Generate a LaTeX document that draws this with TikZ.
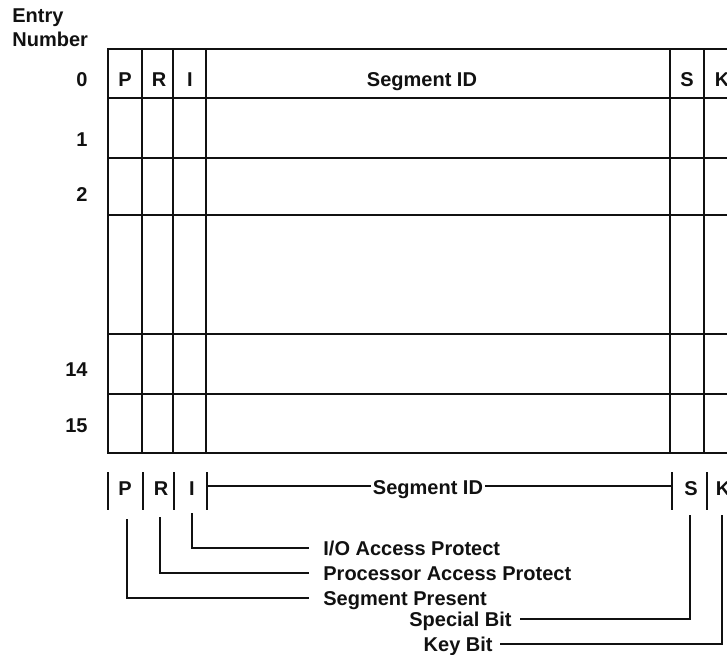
\documentclass[tikz,border=0pt]{standalone}
\usepackage{fontspec}
\setmainfont{Liberation Sans}
\usetikzlibrary{positioning,calc}
\definecolor{Ink}{HTML}{111111}
\tikzset{
  table line/.style={draw=Ink,line width=1.1pt},
  bit label/.style={font=\bfseries,text=Ink,inner sep=0pt,
    text height=7.2pt,text depth=0pt},
  field text/.style={font=\bfseries,text=Ink,inner sep=0pt,
    text height=7.2pt,text depth=0pt},
  leader line/.style={draw=Ink,line width=1.1pt}
}

\begin{document}
\begin{tikzpicture}[x=0.5pt,y=-0.5pt]
  \useasboundingbox (0,0) rectangle (727,654);
  % segment table
  \draw[table line] (108,49) rectangle (760,453);
  \foreach \y in {98,158,215,334,394} \draw[table line] (108,\y) -- (760,\y);
  \foreach \x in {142,173,206,670,704} \draw[table line] (\x,49) -- (\x,453);
  \node[font=\bfseries,text=Ink,align=left,inner sep=0pt,anchor=north west] (entry) at (12,8) {Entry\\Number};
  \node[bit label] (hP) at (125,79) {P};
  \node[bit label] (hR) at (159,79) {R};
  \node[bit label] (hI) at (190,79) {I};
  \node[bit label] (hSeg) at (422,79) {Segment ID};
  \node[bit label] (hS) at (687,79) {S};
  \node[bit label] (hK) at (722,79) {K};
  \node[bit label,anchor=east] (row0) at (88,79) {0};
  \node[bit label,anchor=east] (row1) at (88,139) {1};
  \node[bit label,anchor=east] (row2) at (88,194) {2};
  \node[bit label,anchor=east] (row14) at (88,369) {14};
  \node[bit label,anchor=east] (row15) at (88,425) {15};
  % field layout
  \foreach \x in {108,143,174,207,672,707} \draw[table line] (\x,472) -- (\x,510);
  \node[bit label] (bP) at (125,488) {P};
  \node[bit label] (bR) at (161,488) {R};
  \node[bit label] (bI) at (192,488) {I};
  \node[bit label] (bSeg) at (428,487) {Segment ID};
  \node[bit label] (bS) at (691,488) {S};
  \node[bit label] (bK) at (723,488) {K};
  \coordinate (iBar) at (207,486);
  \coordinate (sBar) at (672,486);
  \draw[leader line,shorten >=1pt] (iBar) -- (iBar -| bSeg.west);
  \draw[leader line,shorten <=1pt] (sBar -| bSeg.east) -- (sBar);
  % leaders
  \coordinate (iTop) at (192,513);
  \coordinate (rTop) at (160,517);
  \coordinate (pTop) at (127,519);
  \coordinate (sTop) at (690,515);
  \coordinate (kTop) at (722,515);
  \node[field text,anchor=west] (ioProt) at (323,548) {I/O Access Protect};
  \node[field text,anchor=west] (procProt) at (323,573) {Processor Access Protect};
  \node[field text,anchor=west] (segPres) at (323,598) {Segment Present};
  \node[field text,anchor=east] (special) at (512,619) {Special Bit};
  \node[field text,anchor=east] (keyBit) at (493,644) {Key Bit};
  \draw[leader line] (iTop) |- ([xshift=-7pt]ioProt.west);
  \draw[leader line] (rTop) |- ([xshift=-7pt]procProt.west);
  \draw[leader line] (pTop) |- ([xshift=-7pt]segPres.west);
  \draw[leader line] (sTop) |- ([xshift=4pt]special.east);
  \draw[leader line] (kTop) |- ([xshift=3.5pt]keyBit.east);
\end{tikzpicture}
\end{document}
